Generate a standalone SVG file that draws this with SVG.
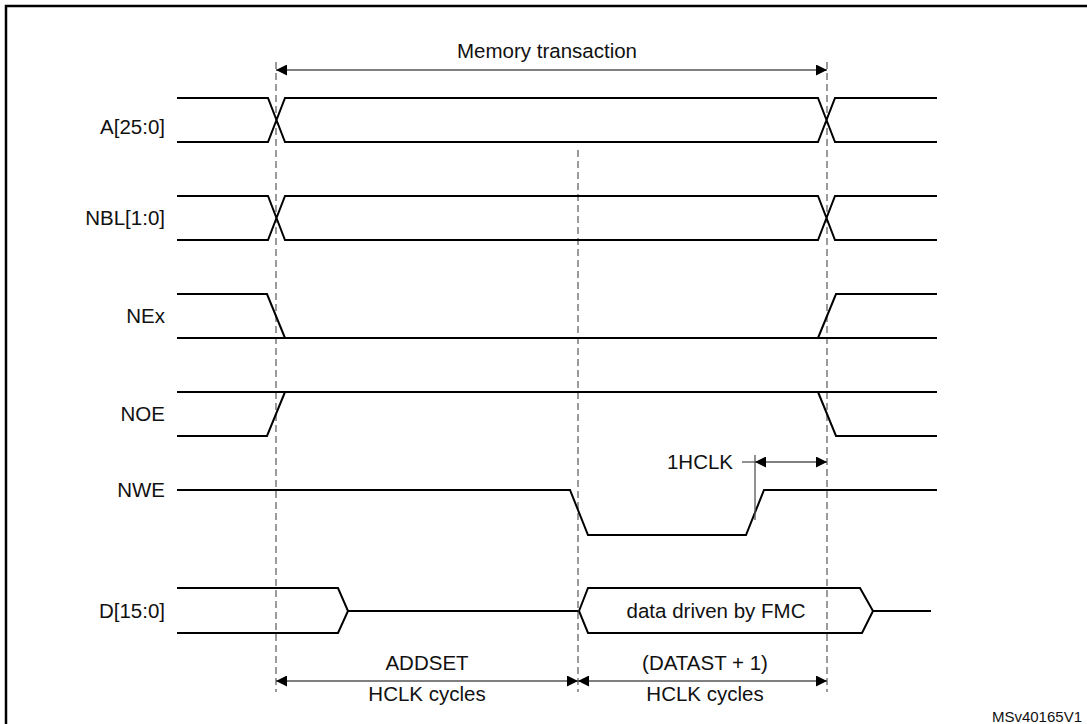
<svg xmlns="http://www.w3.org/2000/svg" width="1087" height="724" viewBox="0 0 1087 724">
<defs>
<marker id="ah" viewBox="0 0 10 10" refX="10" refY="5" markerWidth="16" markerHeight="11" markerUnits="userSpaceOnUse" orient="auto-start-reverse"><path d="M0,0 L10,5 L0,10 z" fill="#000"/></marker>
<style>
.s{fill:none;stroke:#000;stroke-width:2}
.d{fill:none;stroke:#666;stroke-width:1.3;stroke-dasharray:7,4}
.a{fill:none;stroke:#555;stroke-width:1.3}
text{font-family:"Liberation Sans",Arial,sans-serif;font-size:20.5px;fill:#111}
.r{text-anchor:end}
.m{text-anchor:middle}
</style>
</defs>
<rect x="6" y="6" width="1100" height="740" fill="#fff" stroke="#000" stroke-width="2.5"/>
<g id="guides">
<line class="d" x1="276" y1="62" x2="276" y2="692"/>
<line class="d" x1="578" y1="150" x2="578" y2="692"/>
<line class="d" x1="827" y1="62" x2="827" y2="692"/>
</g>
<g id="sig-A"><text class="r" x="165" y="134">A[25:0]</text>
<path class="s" d="M177,98 H268 L285,142 H818 L835,98 H937 M177,142 H268 L285,98 H818 L835,142 H937"/></g>
<g id="sig-NBL"><text class="r" x="165" y="225">NBL[1:0]</text>
<path class="s" d="M177,196 H268 L285,240 H818 L835,196 H937 M177,240 H268 L285,196 H818 L835,240 H937"/></g>
<g id="sig-NEx"><text class="r" x="165" y="323">NEx</text>
<path class="s" d="M177,294 H267 L285,338 M177,338 H937 M818,338 L836,294 H937"/></g>
<g id="sig-NOE"><text class="r" x="165" y="421">NOE</text>
<path class="s" d="M177,392 H937 M818,392 L836,436 H937 M177,436 H267 L285,392"/></g>
<g id="sig-NWE"><text class="r" x="165" y="497">NWE</text>
<path class="s" d="M177,490 H570 L588,535 H746 L764,490 H937"/></g>
<g id="sig-D"><text class="r" x="165" y="618">D[15:0]</text>
<path class="s" d="M177,588 H338 L348,611 L338,633 H177 M348,611 H578"/>
<path class="s" d="M579,611 L588,588 H860 L873,611 L862,633 H588 Z M873,611 H931"/>
<text class="m" x="716" y="618">data driven by FMC</text></g>
<g id="connectors">
<line class="a" x1="276" y1="70" x2="827" y2="70" marker-start="url(#ah)" marker-end="url(#ah)"/>
<line class="a" x1="742" y1="462" x2="755" y2="462"/>
<line class="a" x1="755" y1="455" x2="755" y2="520"/>
<line class="a" x1="755" y1="462" x2="827" y2="462" marker-start="url(#ah)" marker-end="url(#ah)"/>
<line class="a" x1="276" y1="681" x2="578" y2="681" marker-start="url(#ah)" marker-end="url(#ah)"/>
<line class="a" x1="578" y1="681" x2="827" y2="681" marker-start="url(#ah)" marker-end="url(#ah)"/>
</g>
<g id="labels">
<text class="m" x="547" y="58">Memory transaction</text>
<text class="m" x="700" y="469">1HCLK</text>
<text class="m" x="427" y="670">ADDSET</text>
<text class="m" x="427" y="701">HCLK cycles</text>
<text class="m" x="705" y="670">(DATAST + 1)</text>
<text class="m" x="705" y="701">HCLK cycles</text>
<text class="r" x="1082" y="722" style="font-size:15px">MSv40165V1</text>
</g>
</svg>
